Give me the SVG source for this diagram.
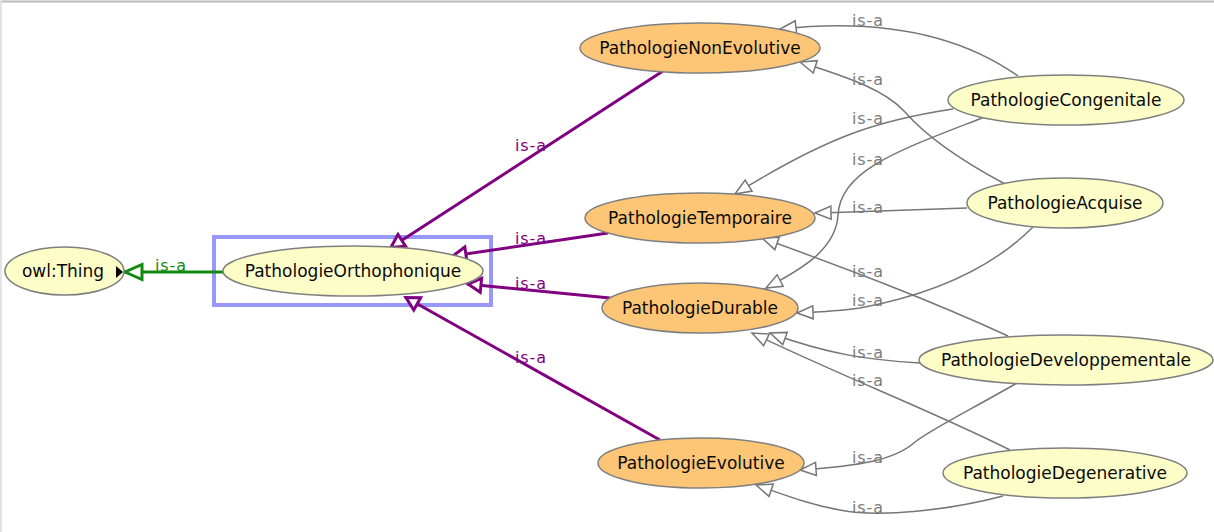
<svg xmlns="http://www.w3.org/2000/svg" width="1214" height="532" viewBox="0 0 1214 532">
  <style>
    .bg { fill: #ffffff; }
    .node ellipse { stroke: #7f7f7f; stroke-width: 1.5; }
    .cls ellipse { fill: #fdfdc8; }
    .def ellipse { fill: #fcc676; }
    .node text { font-family: "DejaVu Sans", "Liberation Sans", sans-serif; font-size: 17px; fill: #0a0a0a; text-anchor: middle; }
    .edge { fill: none; }
    .sub { stroke: #767676; stroke-width: 1.5; marker-end: url(#tri-gray); }
    .isa { stroke: #800080; stroke-width: 3; marker-end: url(#tri-purple); }
    .top { stroke: #118a11; stroke-width: 3; marker-end: url(#tri-green); }
    .lbl { font-family: "DejaVu Sans", "Liberation Sans", sans-serif; font-size: 16px; letter-spacing: 0.9px; }
    .lbl-gray { fill: #7c7c7c; }
    .lbl-purple { fill: #800080; }
    .lbl-green { fill: #118a11; }
  </style>
  <defs>
    <marker id="tri-gray" markerUnits="userSpaceOnUse" viewBox="-20 -10 22 20" markerWidth="22" markerHeight="20" refX="0" refY="0" orient="auto">
      <path d="M0,0 L-16,-6.5 L-16,6.5 Z" fill="#ffffff" stroke="#767676" stroke-width="1.5" stroke-linejoin="miter"/>
    </marker>
    <marker id="tri-purple" markerUnits="userSpaceOnUse" viewBox="-20 -12 24 24" markerWidth="24" markerHeight="24" refX="0" refY="0" orient="auto">
      <path d="M-1,0 L-14,-7 L-14,7 Z" fill="#ffffff" stroke="#800080" stroke-width="3" stroke-linejoin="miter"/>
    </marker>
    <marker id="tri-green" markerUnits="userSpaceOnUse" viewBox="-22 -12 26 24" markerWidth="26" markerHeight="24" refX="0" refY="0" orient="auto">
      <path d="M-1,0 L-18,-7.5 L-18,7.5 Z" fill="#ffffff" stroke="#118a11" stroke-width="3" stroke-linejoin="miter"/>
    </marker>
  </defs>

  <!-- canvas and panel border -->
  <rect class="bg" x="0" y="0" width="1214" height="532"/>
  <rect x="0" y="0" width="1214" height="3" fill="#dadada"/>
  <line x1="0" y1="1.5" x2="1214" y2="1.5" stroke="#bdbdbd" stroke-width="1"/>
  <rect x="0" y="0" width="2" height="532" fill="#e4e4e4"/>

  <!-- selection frame around the focused class -->
  <rect id="selection" x="214" y="237" width="277" height="68" fill="none" stroke="#9898fb" stroke-width="4"/>

  <g id="connectors">
    <!-- owl:Thing -->
    <path class="edge top" d="M223,272 L124,272"/>
    <text class="lbl lbl-green" x="155" y="271">is-a</text>

    <!-- direct subclasses of PathologieOrthophonique -->
    <path class="edge isa" d="M663,71 L390,248"/>
    <path class="edge isa" d="M608,233 L452,256"/>
    <path class="edge isa" d="M610,298 L467,284"/>
    <path class="edge isa" d="M660,440 L405,297"/>
    <text class="lbl lbl-purple" x="515" y="151">is-a</text>
    <text class="lbl lbl-purple" x="515" y="244">is-a</text>
    <text class="lbl lbl-purple" x="515" y="289">is-a</text>
    <text class="lbl lbl-purple" x="515" y="363">is-a</text>

    <!-- second level -->
    <path class="edge sub" d="M1018,76 C960,35 880,18 780,29"/>
    <path class="edge sub" d="M1005,184 C960,160 925,135 905,112 C885,90 850,78 800,62"/>
    <path class="edge sub" d="M953,109 C880,120 830,135 735,194"/>
    <path class="edge sub" d="M982,118 C900,150 840,170 838,215 C836,250 800,270 766,288"/>
    <path class="edge sub" d="M967,208 C900,210 860,212 815,213"/>
    <path class="edge sub" d="M1033,227 C990,270 930,295 860,308 C840,311 820,312 797,313"/>
    <path class="edge sub" d="M1008,336 C930,300 850,270 762,238"/>
    <path class="edge sub" d="M920,363 C870,360 830,355 770,333"/>
    <path class="edge sub" d="M1010,450 C930,410 850,380 752,333"/>
    <path class="edge sub" d="M1017,383 C970,410 930,430 915,442 C895,460 860,466 800,470"/>
    <path class="edge sub" d="M1003,496 C950,510 880,518 840,510 C810,505 785,495 756,485"/>
    <text class="lbl lbl-gray" x="852" y="26">is-a</text>
    <text class="lbl lbl-gray" x="852" y="85">is-a</text>
    <text class="lbl lbl-gray" x="852" y="124">is-a</text>
    <text class="lbl lbl-gray" x="852" y="165">is-a</text>
    <text class="lbl lbl-gray" x="852" y="213">is-a</text>
    <text class="lbl lbl-gray" x="852" y="277">is-a</text>
    <text class="lbl lbl-gray" x="852" y="306">is-a</text>
    <text class="lbl lbl-gray" x="852" y="358">is-a</text>
    <text class="lbl lbl-gray" x="852" y="386">is-a</text>
    <text class="lbl lbl-gray" x="852" y="463">is-a</text>
    <text class="lbl lbl-gray" x="852" y="513">is-a</text>
  </g>

  <g id="owl-thing" class="node cls">
    <ellipse cx="64.5" cy="271" rx="59.5" ry="24"/>
    <text x="63" y="277">owl:Thing</text>
    <path d="M116,266 L123,272 L116,278 Z" fill="#000000"/>
  </g>
  <g id="pathologie-orthophonique" class="node cls">
    <ellipse cx="353" cy="271" rx="130" ry="25"/>
    <text x="353" y="277">PathologieOrthophonique</text>
  </g>
  <g id="pathologie-non-evolutive" class="node def">
    <ellipse cx="700" cy="48" rx="120" ry="25"/>
    <text x="700" y="54">PathologieNonEvolutive</text>
  </g>
  <g id="pathologie-temporaire" class="node def">
    <ellipse cx="700" cy="218" rx="115" ry="25"/>
    <text x="700" y="224">PathologieTemporaire</text>
  </g>
  <g id="pathologie-durable" class="node def">
    <ellipse cx="700" cy="308" rx="98" ry="25"/>
    <text x="700" y="314">PathologieDurable</text>
  </g>
  <g id="pathologie-evolutive" class="node def">
    <ellipse cx="701" cy="463" rx="103" ry="25"/>
    <text x="701" y="469">PathologieEvolutive</text>
  </g>
  <g id="pathologie-congenitale" class="node cls">
    <ellipse cx="1066" cy="100" rx="118" ry="25"/>
    <text x="1066" y="106">PathologieCongenitale</text>
  </g>
  <g id="pathologie-acquise" class="node cls">
    <ellipse cx="1065" cy="203" rx="98" ry="25"/>
    <text x="1065" y="209">PathologieAcquise</text>
  </g>
  <g id="pathologie-developpementale" class="node cls">
    <ellipse cx="1066" cy="360" rx="147" ry="25"/>
    <text x="1066" y="366">PathologieDeveloppementale</text>
  </g>
  <g id="pathologie-degenerative" class="node cls">
    <ellipse cx="1065" cy="473" rx="122" ry="25"/>
    <text x="1065" y="479">PathologieDegenerative</text>
  </g>
</svg>
